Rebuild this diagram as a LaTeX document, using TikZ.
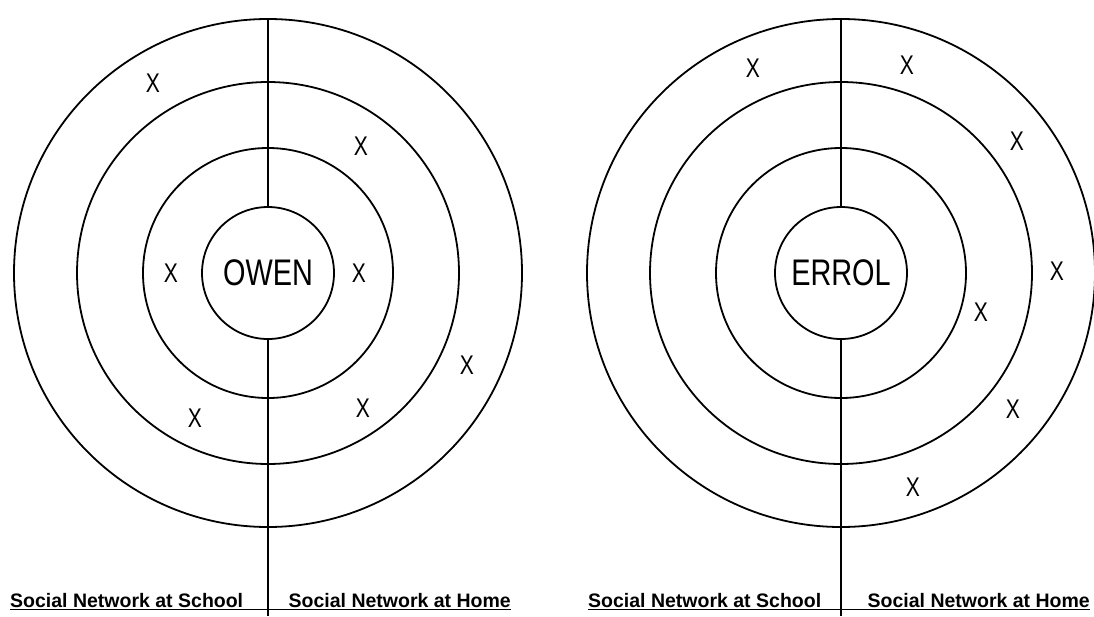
\documentclass[tikz,border=0pt]{standalone}
\usepackage{fontspec}
\setmainfont{Liberation Sans}
\newfontfamily\handfont[FakeStretch=0.78]{Liberation Sans}
\usetikzlibrary{positioning}

\tikzset{
  ring/.style={line width=1.8pt},
  divider/.style={line width=1.5pt},
  namecirc/.style={circle,draw,line width=1.8pt,minimum size=132pt,inner sep=0pt,
    font=\handfont\fontsize{37}{37}\selectfont},
  xmark/.style={inner sep=0pt,font=\handfont\fontsize{27}{27}\selectfont},
  netlabel/.style={inner sep=0pt,font=\bfseries\fontsize{19.5}{19.5}\selectfont},
}

\begin{document}
\begin{tikzpicture}[x=1pt,y=-1pt]
  \useasboundingbox (0,0) rectangle (1094,616);
  % Owen
  \node[namecirc] (owen) at (268,273) {OWEN};
  \foreach \r in {125,191,254}
    \draw[ring] (owen.center) circle[radius=\r pt];
  \coordinate (owenTop) at (268,19);
  \coordinate (owenFoot) at (268,616);
  \draw[divider] (owenTop) -- (owen.north);
  \draw[divider] (owen.south) -- (owenFoot);
  \foreach \px/\py [count=\i] in {153/83,361/146,171/273,359/273,467/365,363/408,195/418}
    \node[xmark] (owenX\i) at (\px,\py) {X};
  \node[netlabel,anchor=base west] (owenSchool) at (10,607) {Social Network at School};
  \node[netlabel,anchor=base east] (owenHome) at (511,607) {Social Network at Home};
  \draw[divider] ([yshift=-2.5pt]owenSchool.base west) -- ([yshift=-2.5pt]owenHome.base east);

  % Errol
  \node[namecirc] (errol) at (841,273) {ERROL};
  \foreach \r in {125,191,254}
    \draw[ring] (errol.center) circle[radius=\r pt];
  \coordinate (errolTop) at (841,19);
  \coordinate (errolFoot) at (841,616);
  \draw[divider] (errolTop) -- (errol.north);
  \draw[divider] (errol.south) -- (errolFoot);
  \foreach \px/\py [count=\i] in {753/68,907/65,1017/141,1057/271,981/312,1013/409,913/487}
    \node[xmark] (errolX\i) at (\px,\py) {X};
  \node[netlabel,anchor=base west] (errolSchool) at (588,607) {Social Network at School};
  \node[netlabel,anchor=base east] (errolHome) at (1090,607) {Social Network at Home};
  \draw[divider] ([yshift=-2.5pt]errolSchool.base west) -- ([yshift=-2.5pt]errolHome.base east);
\end{tikzpicture}
\end{document}
